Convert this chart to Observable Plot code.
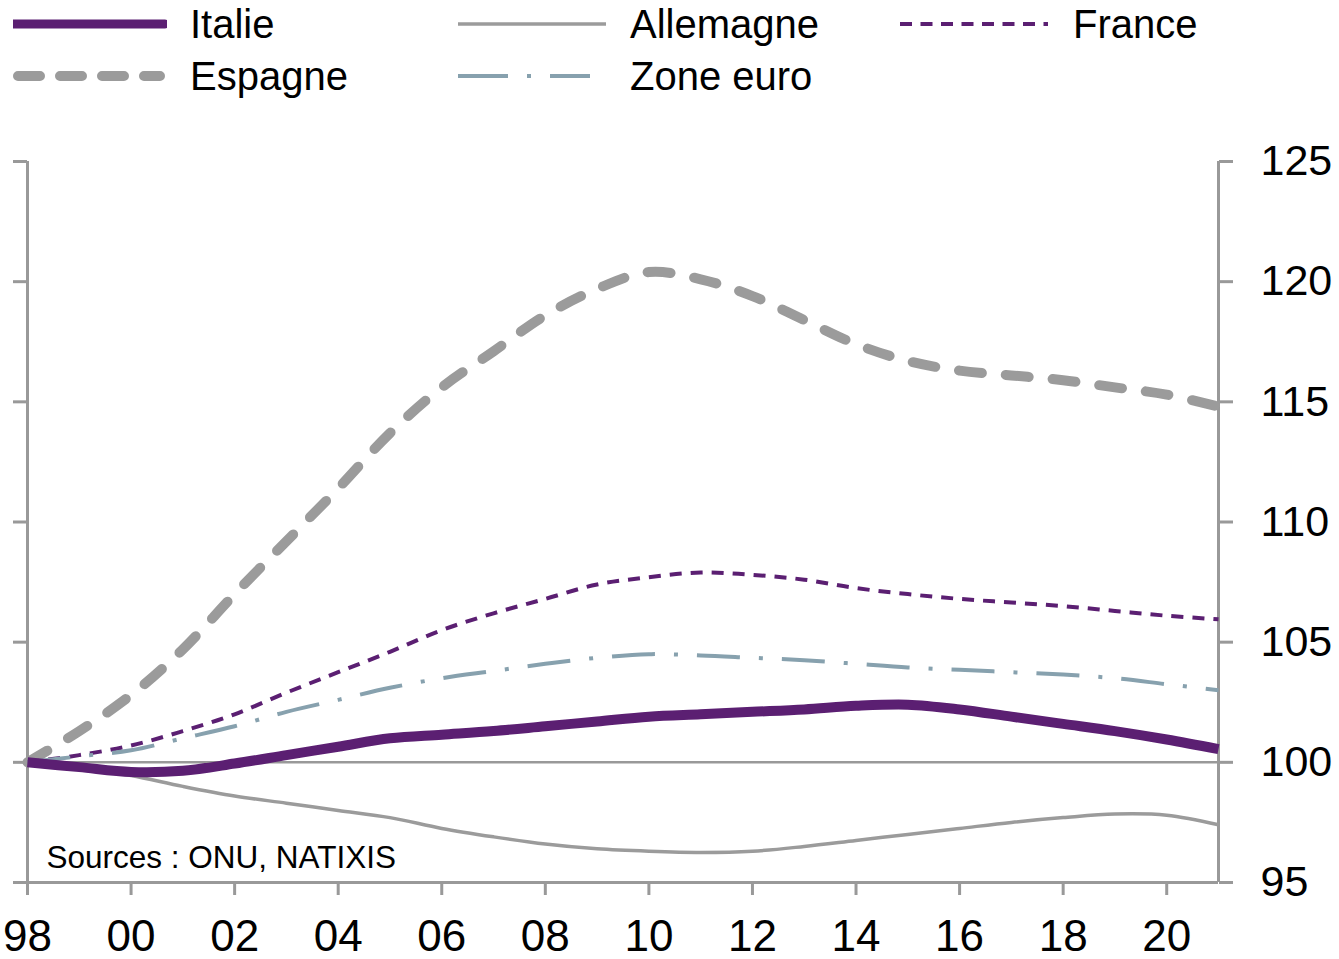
<!DOCTYPE html>
<html>
<head>
<meta charset="utf-8">
<script src="https://cdn.jsdelivr.net/npm/d3@7"></script>
<script src="https://cdn.jsdelivr.net/npm/@observablehq/plot@0.6"></script>
<style>
  html, body { margin: 0; padding: 0; background: #fff; }
  body { width: 1339px; height: 959px; overflow: hidden; font-family: "Liberation Sans", Arial, sans-serif; }
  #legend { position: relative; width: 1339px; height: 110px; }
  .item { position: absolute; height: 40px; }
  .item svg { position: absolute; left: 0; top: 0; }
  .item span { position: absolute; top: 0; font-size: 40px; line-height: 40px; color: #000; white-space: nowrap; }
  #chart svg { display: block; }
</style>
</head>
<body>
<div id="legend"></div>
<div id="chart"></div>
<script>
const years = [1998,1999,2000,2001,2002,2003,2004,2005,2006,2007,2008,2009,2010,2011,2012,2013,2014,2015,2016,2017,2018,2019,2020,2021];
const italie    = [100,99.8,99.6,99.65,99.95,100.3,100.65,101.0,101.15,101.3,101.5,101.7,101.9,102.0,102.1,102.2,102.35,102.4,102.2,101.9,101.6,101.3,100.95,100.55];
const allemagne = [100,99.8,99.45,99.0,98.6,98.3,98.0,97.7,97.25,96.9,96.6,96.4,96.3,96.25,96.3,96.5,96.75,97.0,97.25,97.5,97.7,97.85,97.8,97.4];
const france    = [100,100.3,100.7,101.3,102.0,102.9,103.75,104.6,105.5,106.2,106.8,107.4,107.7,107.9,107.8,107.6,107.25,107.0,106.8,106.65,106.5,106.3,106.1,105.95];
const espagne   = [100,101.3,102.8,104.7,107.0,109.2,111.4,113.7,115.6,117.1,118.6,119.7,120.4,120.1,119.4,118.4,117.4,116.7,116.3,116.1,115.9,115.6,115.3,114.8];
const zoneEuro  = [100,100.25,100.5,101.0,101.5,102.1,102.6,103.1,103.5,103.8,104.1,104.35,104.5,104.45,104.35,104.25,104.1,103.95,103.85,103.75,103.65,103.5,103.25,103.0];
const yTicks = [95,100,105,110,115,120,125];
const xTicks = [1998,2000,2002,2004,2006,2008,2010,2012,2014,2016,2018,2020];
const seriesNames = ["Italie","Allemagne","France","Espagne","Zone euro"];
const source = "Sources : ONU, NATIXIS";

const PURPLE = "#5b1f72", GREY = "#9b9b9b", BLUEGREY = "#87a1ae", AXIS = "#999999";

const styles = {
  "Italie":    {values: italie,    stroke: PURPLE,   strokeWidth: 10, dash: null, cap: "butt"},
  "Allemagne": {values: allemagne, stroke: GREY,     strokeWidth: 3.5, dash: null, cap: "butt"},
  "France":    {values: france,    stroke: PURPLE,   strokeWidth: 4,  dash: "12,9", cap: "butt"},
  "Espagne":   {values: espagne,   stroke: GREY,     strokeWidth: 10, dash: "23,24", cap: "round"},
  "Zone euro": {values: zoneEuro,  stroke: BLUEGREY, strokeWidth: 4,  dash: "43,19,4,19", cap: "butt"}
};

// Legend
const legendPos = {
  "Italie":    {x: 13,  y: 4},
  "Allemagne": {x: 458, y: 4},
  "France":    {x: 900, y: 4},
  "Espagne":   {x: 13,  y: 56},
  "Zone euro": {x: 458, y: 56}
};
const legendSwatch = {
  "Italie": 152, "Allemagne": 148, "France": 148, "Espagne": 152, "Zone euro": 132
};
const legend = document.getElementById("legend");
for (const name of seriesNames) {
  const s = styles[name], p = legendPos[name], w = legendSwatch[name];
  const div = document.createElement("div");
  div.className = "item";
  div.style.left = p.x + "px";
  div.style.top = p.y + "px";
  const capPad = s.cap === "round" ? s.strokeWidth / 2 : 0;
  let dash = s.dash;
  if (name === "Espagne") dash = "22,20";
  if (name === "France") dash = "12,8.5";
  if (name === "Zone euro") dash = "50,19,4,19";
  div.innerHTML = `<svg width="${w + 2}" height="40"><line x1="${capPad}" x2="${w - capPad}" y1="20" y2="20" stroke="${s.stroke}" stroke-width="${name === "Italie" ? 9 : s.strokeWidth}" ${dash ? `stroke-dasharray="${dash}"` : ""} stroke-linecap="${name === "Italie" ? "round" : s.cap}"/></svg><span style="left:${(name === "Allemagne" || name === "Zone euro") ? 172 : (name === "France" ? 173 : 177)}px">${name}</span>`;
  legend.appendChild(div);
}

// Chart
const order = ["Espagne","France","Zone euro","Allemagne","Italie"];
const lineMarks = order.map(name => {
  const s = styles[name];
  const data = years.map((y, i) => ({year: y, value: s.values[i]}));
  return Plot.line(data, {
    x: "year", y: "value", stroke: s.stroke, strokeWidth: s.strokeWidth,
    strokeDasharray: s.dash || undefined, strokeLinecap: s.cap, strokeLinejoin: "round",
    curve: "catmull-rom"
  });
});

const chart = Plot.plot({
  width: 1339,
  height: 849,
  marginTop: 51,
  marginBottom: 77,
  marginLeft: 27,
  marginRight: 121,
  style: {fontFamily: "'Liberation Sans', Arial, sans-serif", color: "#000", background: "#fff"},
  x: {domain: [1998, 2021]},
  y: {domain: [95, 125]},
  marks: [
    Plot.ruleY([100], {stroke: AXIS, strokeWidth: 2.5}),
    Plot.ruleX([1998, 2021], {stroke: AXIS, strokeWidth: 3}),
    Plot.ruleY([95], {stroke: AXIS, strokeWidth: 3}),
    Plot.axisY({anchor: "right", ticks: yTicks, tickSize: 14, tickPadding: 28, fontSize: 43, stroke: AXIS, strokeWidth: 3, fill: "#000", label: null}),
    Plot.axisY({anchor: "left", ticks: yTicks, tickSize: 14, tickFormat: () => "", stroke: AXIS, strokeWidth: 3, label: null}),
    Plot.axisX({anchor: "bottom", ticks: xTicks, tickSize: 13, tickPadding: 24, fontSize: 44, stroke: AXIS, strokeWidth: 3, fill: "#000", label: null,
      tickFormat: d => String(d % 100).padStart(2, "0")}),
    ...lineMarks,
    Plot.text([source], {frameAnchor: "bottom-left", dx: 19, dy: -25, textAnchor: "start", lineAnchor: "middle", fontSize: 31.5, fill: "#000"})
  ]
});
document.getElementById("chart").appendChild(chart);
</script>
</body>
</html>
